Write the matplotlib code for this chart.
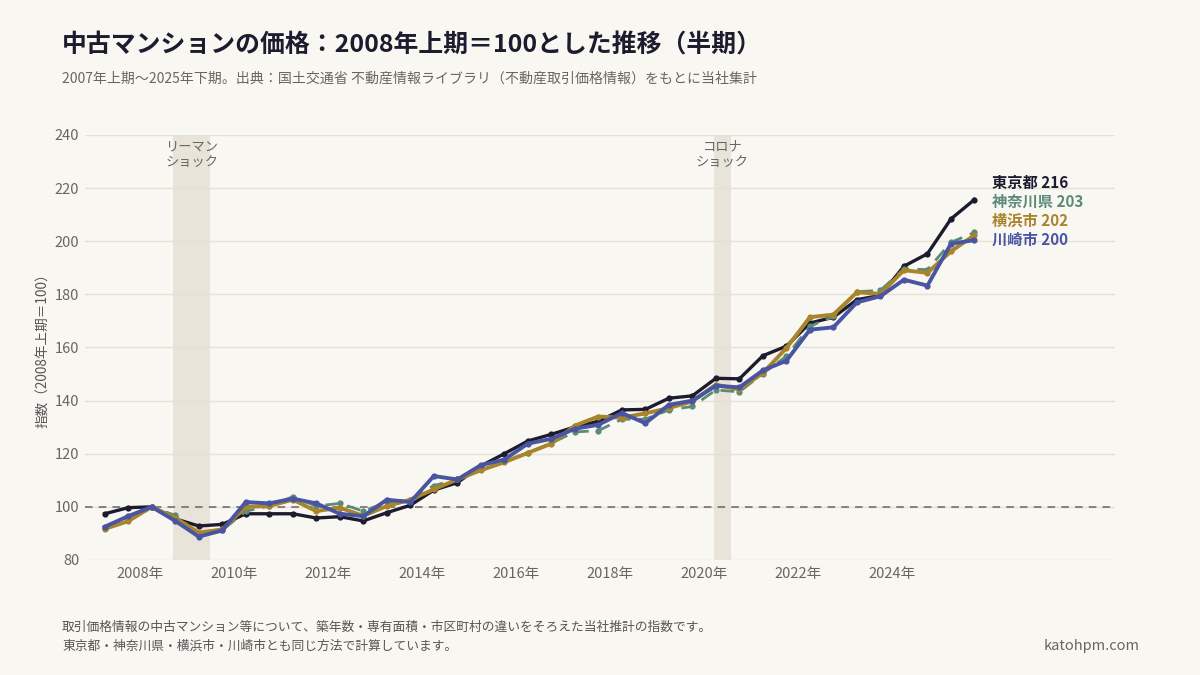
import matplotlib
matplotlib.use("Agg")
import matplotlib.pyplot as plt
import numpy as np

plt.rcParams['font.family'] = ['Noto Sans CJK JP', 'DejaVu Sans']

# ---- data ----
years = list(range(2007, 2026))
periods = [y + h for y in years for h in (0.25, 0.75)]  # H1, H2 positions

tokyo = [97.4, 99.7, 100.0, 95.5, 92.8, 93.4, 97.4, 97.4, 97.4, 95.8,
         96.3, 94.7, 97.8, 100.6, 106.3, 109.1, 115.4, 120.0, 124.8, 127.3,
         130.1, 132.2, 136.5, 136.7, 140.9, 141.8, 148.4, 148.2, 156.9, 160.5,
         169.2, 171.4, 178.0, 179.6, 190.6, 195.3, 208.4, 215.7]
kanagawa = [92.0, 96.0, 100.0, 96.8, 89.8, 91.2, 98.4, 100.3, 103.8, 100.3,
            101.3, 98.4, 101.8, 102.7, 108.0, 110.3, 114.3, 117.2, 120.3, 124.0,
            128.2, 128.7, 133.0, 133.0, 136.5, 137.8, 144.0, 143.3, 150.2, 156.7,
            168.0, 171.7, 181.0, 181.5, 189.6, 189.3, 199.6, 203.3]
yokohama = [91.7, 94.6, 100.0, 95.9, 90.3, 91.5, 100.0, 100.3, 102.7, 98.4,
            99.7, 96.6, 100.3, 102.7, 106.6, 110.3, 113.8, 116.8, 120.3, 123.8,
            130.6, 134.0, 133.6, 135.2, 137.2, 139.7, 146.0, 144.2, 150.4, 159.8,
            171.4, 172.4, 180.8, 180.2, 189.1, 188.1, 196.2, 202.3]
kawasaki = [92.5, 96.5, 100.0, 94.7, 88.8, 91.1, 101.8, 101.3, 103.1, 101.3,
            97.4, 96.5, 102.7, 101.8, 111.6, 110.3, 115.7, 117.8, 123.8, 125.6,
            129.4, 130.9, 135.3, 131.5, 138.4, 140.0, 145.6, 145.0, 151.4, 155.0,
            166.7, 167.6, 177.0, 179.3, 185.5, 183.3, 199.1, 200.4]

names = ["東京都", "神奈川県", "横浜市", "川崎市"]
label_values = [216, 203, 202, 200]
colors = ["#1c1c2e", "#5a8a78", "#a8842a", "#4a55a2"]

shock_spans = [(2008.71, 2009.5), (2020.2, 2020.58)]
shock_labels = ["リーマン\nショック", "コロナ\nショック"]
xtick_years = list(range(2008, 2025, 2))
yticks = list(range(80, 241, 20))

# ---- figure ----
bg = "#f9f7f2"
fig = plt.figure(figsize=(12, 6.75), dpi=100, facecolor=bg)
ax = fig.add_axes([0.0708, 0.1704, 0.8584, 0.6296])
ax.set_facecolor(bg)

ax.set_xlim(2006.83, 2028.74)
ax.set_ylim(80, 240)

for (a, b), lab in zip(shock_spans, shock_labels):
    ax.axvspan(a, b, color="#e9e4da", zorder=0, lw=0)
    ax.text((a + b) / 2, 238, lab, ha="center", va="top", fontsize=9.5,
            color="#666666", linespacing=1.25, zorder=1)

for yv in yticks:
    ax.axhline(yv, color="#e5e1d8", lw=1, zorder=0.5)
ax.axhline(100, color="#666666", lw=1.1, ls=(0, (5, 4)), zorder=1)

series = [tokyo, kanagawa, yokohama, kawasaki]
styles = [dict(lw=2.4, ls="-", ms=4.5),
          dict(lw=2.0, ls=(0, (5, 3)), ms=4.5),
          dict(lw=2.8, ls="-", ms=4.5),
          dict(lw=2.8, ls="-", ms=4.5)]
for i, (vals, c, st) in enumerate(zip(series, colors, styles)):
    ax.plot(periods, vals, color=c, lw=st["lw"], ls=st["ls"], marker="o",
            ms=st["ms"], markeredgewidth=0, zorder=3 + i)

label_y = [222.0, 214.8, 207.7, 200.5]
for n, v, c, ly in zip(names, label_values, colors, label_y):
    ax.text(2026.13, ly, f"{n} {v}", color=c, fontsize=11, fontweight="bold",
            ha="left", va="center")

ax.set_xticks(xtick_years)
ax.set_xticklabels([f"{y}年" for y in xtick_years])
ax.set_yticks(yticks)
ax.tick_params(axis="both", length=0, colors="#666666", labelsize=10.5)
ax.tick_params(axis="x", pad=5)
ax.tick_params(axis="y", pad=4)
for s in ax.spines.values():
    s.set_visible(False)

ax.set_ylabel("指数（2008年上期＝100）", fontsize=9.8, color="#555555", labelpad=4)

fig.text(62 / 1200, 1 - 45 / 675, "中古マンションの価格：2008年上期＝100とした推移（半期）",
         fontsize=17.9, fontweight="bold", color="#1c1c2e", va="center", ha="left")
fig.text(62 / 1200, 1 - 79 / 675,
         "2007年上期〜2025年下期。出典：国土交通省 不動産情報ライブラリ（不動産取引価格情報）をもとに当社集計",
         fontsize=10.05, color="#666666", va="center", ha="left")
fig.text(62 / 1200, 1 - 627 / 675,
         "取引価格情報の中古マンション等について、築年数・専有面積・市区町村の違いをそろえた当社推計の指数です。",
         fontsize=9.2, color="#555555", va="center", ha="left")
fig.text(62 / 1200, 1 - 646 / 675,
         "東京都・神奈川県・横浜市・川崎市とも同じ方法で計算しています。",
         fontsize=9.2, color="#555555", va="center", ha="left")
fig.text(1140 / 1200, 1 - 646 / 675, "katohpm.com", fontsize=10.5,
         color="#666666", va="center", ha="right")

fig.savefig("out.png", dpi=100, facecolor=bg)
